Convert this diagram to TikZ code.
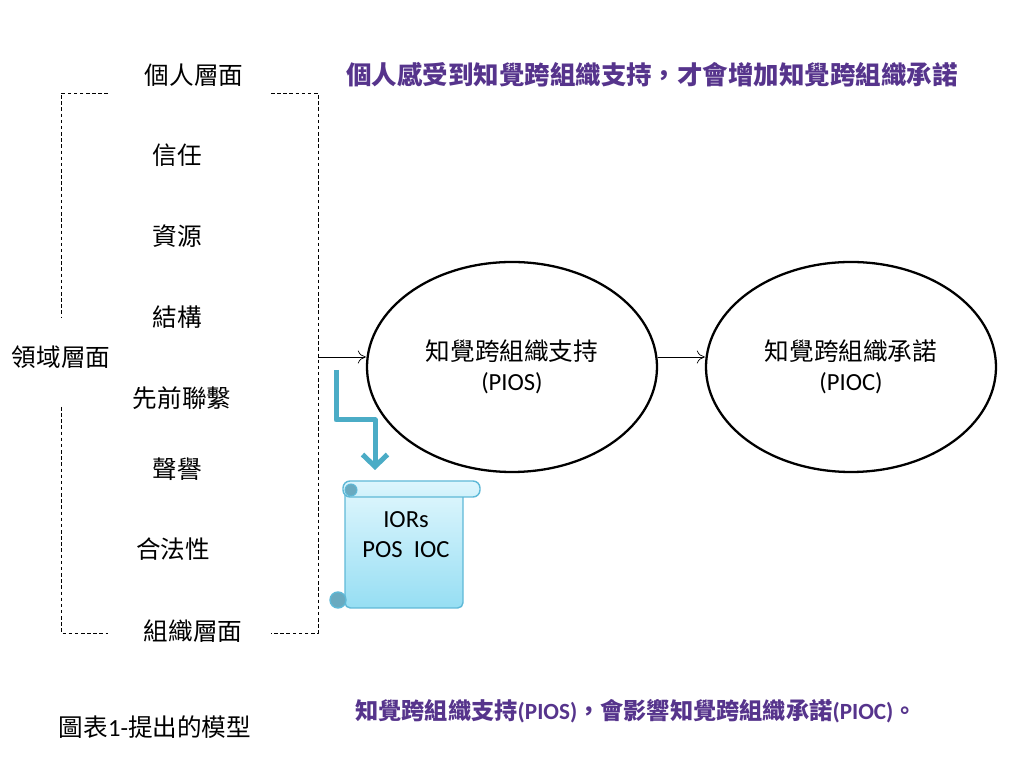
\documentclass[tikz,border=0pt]{standalone}
\usepackage{fontspec}
\setmainfont{Carlito}
\newfontfamily\zh{Noto Sans CJK TC}
\usetikzlibrary{arrows.meta,shapes.geometric}
\definecolor{notepurple}{RGB}{86,52,140}
\definecolor{flowteal}{RGB}{75,172,198}
\definecolor{scrolltop}{RGB}{222,246,253}
\definecolor{scrollbot}{RGB}{150,222,243}
\definecolor{scrolledge}{RGB}{95,185,215}
\definecolor{scrollcurl}{RGB}{105,170,192}
\tikzset{
  lab/.style={inner sep=1pt},
  oval/.style={draw, ellipse, line width=1.3pt, minimum width=58mm, minimum height=42mm, inner sep=0pt, align=center},
  brk/.style={dashed, line width=0.5pt, dash pattern=on 2pt off 1.5pt},
  note/.style={inner sep=1pt, text=notepurple, font=\fontsize{14.5}{17}\selectfont\bfseries}
}
\begin{document}
\begin{tikzpicture}[x=0.2mm, y=-0.2mm, font=\fontsize{14}{17}\selectfont, line join=round, >={To[length=1.6mm, width=2.6mm]}]
	\useasboundingbox (0,0) rectangle (1024,768);
	% levels and factors
	\node[lab] (indiv) at (194,75) {\zh 個人層面};
	\node[lab] (trust) at (177,155) {\zh 信任};
	\node[lab] (res) at (177,236) {\zh 資源};
	\node[lab] (struct) at (177,317) {\zh 結構};
	\node[lab] (field) at (61,357) {\zh 領域層面};
	\node[lab] (prior) at (182,398) {\zh 先前聯繫};
	\node[lab] (rep) at (177,469) {\zh 聲譽};
	\node[lab] (legit) at (173,549) {\zh 合法性};
	\node[lab] (org) at (193,631) {\zh 組織層面};
	\node[lab] (cap) at (155,727) {{\zh 圖表}1-{\zh 提出的模型}};
	% bracket
	\draw[brk] (108,93) -- (61,93) -- (61,317);
	\draw[brk] (271,93) -- (318,93) -- (318,633) -- (271,633);
	\draw[brk] (61,407) -- (61,633) -- (108,633);
	\coordinate (brkout) at (318,357);
	% model
	\node[oval] (pios) at (512,367) {{\zh 知覺跨組織支持}\\(PIOS)};
	\node[oval] (pioc) at (851,367) {{\zh 知覺跨組織承諾}\\(PIOC)};
	\draw[->] (brkout) -- (brkout -| pios.west);
	\draw[->] (brkout -| pios.east) -- (brkout -| pioc.west);
	% scroll
	\draw[scrolledge, line width=0.8pt, top color=scrolltop, bottom color=scrollbot, rounded corners=3pt]
		(345,489) -- (345,608) -- (463,608) -- (463,489) -- cycle;
	\draw[scrolledge, line width=0.8pt, top color=scrolltop, bottom color=scrolltop!80!scrollbot, rounded corners=4pt]
		(343,481) rectangle (480,497);
	\draw[scrolledge, line width=0.6pt, fill=scrollcurl] (351,490) circle (6);
	\draw[scrolledge, line width=0.8pt, fill=scrollcurl] (338,600) circle (8);
	\node[lab, align=center] (ior) at (406,535) {IORs\\POS\ \ IOC};
	\coordinate (tealin) at (336,370);
	\coordinate (tealout) at (375,470);
	\draw[flowteal, line width=1mm, -{Straight Barb[length=2.4mm, width=5mm]}] (tealin) |- (375,420) -- (tealout);
	% notes
	\node[note] (top) at (652,75) {\zh 個人感受到知覺跨組織支持，才會增加知覺跨組織承諾};
	\node[note, font=\fontsize{13.2}{15}\selectfont\bfseries] (bottom) at (636,711) {{\zh 知覺跨組織支持}(PIOS){\zh ，會影響知覺跨組織承諾}(PIOC){\zh 。}};
\end{tikzpicture}
\end{document}
